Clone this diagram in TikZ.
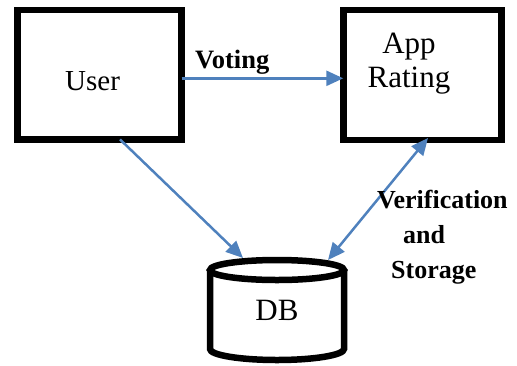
\documentclass[tikz,border=0pt]{standalone}
\usepackage{fontspec}
\setmainfont{Liberation Serif}
\usetikzlibrary{arrows.meta}
\definecolor{arrowblue}{HTML}{4F81BD}
\begin{document}
\begin{tikzpicture}[x=1pt,y=-1pt,
  tipA/.tip={Triangle[length=17pt,width=15pt]},
  boxnode/.style={draw=black, line width=6.5pt, line join=miter, outer sep=0pt, inner sep=0pt},
  cyl/.style={draw=black, line width=6.5pt},
  conn/.style={draw=arrowblue, line width=2.5pt, -tipA},
  dconn/.style={draw=arrowblue, line width=2.5pt, tipA-tipA},
  lbl/.style={inner sep=0pt, font=\fontsize{26}{35}\selectfont\bfseries},
  big/.style={inner sep=0pt, font=\fontsize{31}{34}\selectfont}]
\useasboundingbox (0,0) rectangle (517,365);
% boxes
\node[boxnode, minimum width=164.4pt, minimum height=129.4pt] (user) at (99.5,74.7) {};
\node[boxnode, minimum width=158pt, minimum height=130pt] (app) at (422.3,75) {};
\node[inner sep=0pt, font=\fontsize{29}{32}\selectfont, anchor=base west] (usertext) at (65,90) {User};
\node[big, anchor=base] (apptext) at (409,53) {\begin{tabular}[t]{@{}c@{}}App\\Rating\end{tabular}};
% database cylinder
\node[big, minimum width=140pt, minimum height=107pt, outer sep=0pt] (db) at (277,310.5) {DB};
\draw[cyl] (210,270) -- (210,349) .. controls (210,355.07) and (240,360) .. (277,360)
  .. controls (314,360) and (344,355.07) .. (344,349) -- (344,270);
\draw[cyl] (277,270) ellipse [x radius=67, y radius=10];
% connectors
\draw[conn] ([yshift=-3.6pt]user.east) -- ([yshift=-3.3pt]app.west);
\draw[conn] ([xshift=20.5pt]user.south) -- ([xshift=-34pt,yshift=-1pt]db.north);
\draw[dconn] ([xshift=5.7pt,yshift=2pt]app.south) -- ([xshift=51pt,yshift=-3pt]db.north);
% labels
\node[lbl, font=\fontsize{26.5}{30}\selectfont\bfseries, anchor=base west] (voting) at (195,68) {Voting};
\node[lbl, anchor=base west] (verif) at (377,208) {\begin{tabular}[t]{@{}l@{}}Verification\\\hspace*{26pt}and\\\hspace*{14pt}Storage\end{tabular}};
\end{tikzpicture}
\end{document}
